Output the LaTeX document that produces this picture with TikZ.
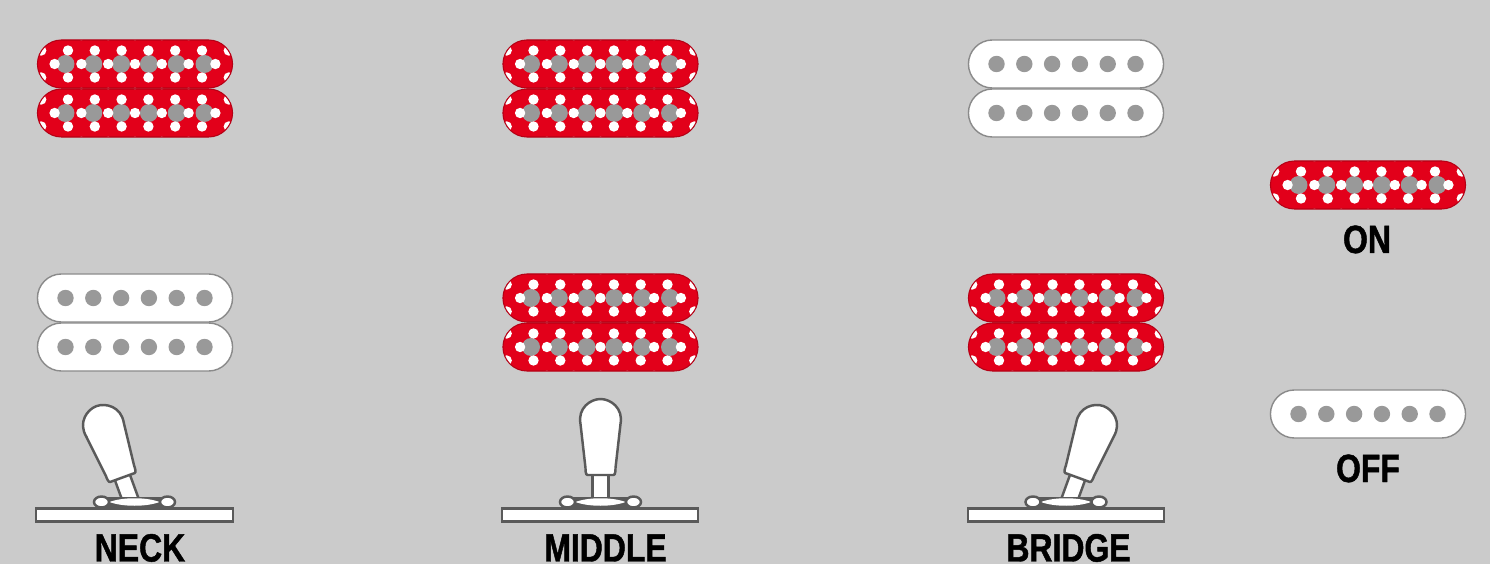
\documentclass[tikz,border=0pt]{standalone}
\usepackage{fontspec}
\setmainfont[FakeStretch=.81, BoldFeatures={FakeBold=1.2}]{Liberation Sans}
\definecolor{panelgray}{HTML}{CBCBCB}
\definecolor{pickupred}{HTML}{E2001A}
\definecolor{polegray}{HTML}{999999}
\definecolor{rimgray}{HTML}{8A8A8A}
\definecolor{partgray}{HTML}{5A5A5A}
\usetikzlibrary{calc}
\tikzset{
  poles/.style={path picture={
    \foreach \k in {-2.5,-1.5,-.5,.5,1.5,2.5}
      \fill[polegray] ($(path picture bounding box.center)+(\k*27.8,0)$) circle (8.2);
  }},
  pickupoff/.style={draw=rimgray, line width=.4pt, fill=white, rounded corners=.24cm, minimum width=1.95cm, minimum height=.48cm, inner sep=0pt, poles},
  pickupon/.style={draw=pickupred!80!black, line width=.3pt, fill=pickupred, rounded corners=.24cm, minimum width=1.95cm, minimum height=.48cm, inner sep=0pt, path picture={
    \foreach \k in {-2.5,-1.5,-.5,.5,1.5,2.5}
      \fill[polegray] ($(path picture bounding box.center)+(\k*27.8,0)$) circle (9);
    \foreach \k in {-3,...,3} {
      \fill[white] ($(path picture bounding box.center)+(\k*26.8,0)$) circle (5.2);
      \fill[white] ($(path picture bounding box.center)+(\k*26.8,25.5)$) circle (2);
      \fill[white] ($(path picture bounding box.center)+(\k*26.8,-25.5)$) circle (2);
    }
    \foreach \k in {-3.5,-2.5,-1.5,-.5,.5,1.5,2.5,3.5} {
      \fill[white] ($(path picture bounding box.center)+(\k*26.8,13.5)$) circle (5.2);
      \fill[white] ($(path picture bounding box.center)+(\k*26.8,-13.5)$) circle (5.2);
    }
  }},
  plate/.style={draw=partgray, line width=.6pt, fill=white, minimum width=1.96cm, minimum height=.13cm, inner sep=0pt},
  caption/.style={anchor=base, font=\fontsize{11.2}{13}\selectfont\bfseries, inner sep=0pt, text=black},
  bolt/.pic={
    \fill[partgray] (-33,-5) -- (33,-5) -- (33,5) -- (-33,5) -- cycle;
    \fill[white] (-25,0) .. controls (-12,-5) and (12,-5) .. (25,0) .. controls (12,5) and (-12,5) .. (-25,0) -- cycle;
    \draw[partgray, line width=.7pt, fill=white] (-33,0) circle [x radius=7.5, y radius=5.5];
    \draw[partgray, line width=.7pt, fill=white] (33,0) circle [x radius=7.5, y radius=5.5];
  },
  lever/.pic={
    \draw[partgray, line width=.7pt, fill=white] (-8,0) -- (-8,-26) -- (8,-26) -- (8,0);
    \draw[partgray, line width=.7pt, fill=white] (-13,-25) .. controls (-15,-25) and (-15,-30) .. (-15,-32) -- (-20,-76) .. controls (-23,-92) and (-10,-101) .. (0,-101) .. controls (10,-101) and (23,-92) .. (20,-76) -- (15,-32) .. controls (15,-30) and (15,-25) .. (13,-25) -- cycle;
  }
}
\begin{document}
\begin{tikzpicture}[x=.01cm, y=-.01cm]
\fill[panelgray] (0,0) rectangle (1490,564);
\useasboundingbox (0,0) rectangle (1490,564);
\node[pickupon] (neckone) at (135,64) {};
\node[pickupon] (necktwo) at (135,113) {};
\node[pickupon] (middleone) at (600.5,64) {};
\node[pickupon] (middletwo) at (600.5,113) {};
\node[pickupoff] (bridgeone) at (1066,64) {};
\node[pickupoff] (bridgetwo) at (1066,113) {};
\node[pickupoff] (neckthree) at (135,298) {};
\node[pickupoff] (neckfour) at (135,347) {};
\node[pickupon] (middlethree) at (600.5,298) {};
\node[pickupon] (middlefour) at (600.5,347) {};
\node[pickupon] (bridgethree) at (1066,298) {};
\node[pickupon] (bridgefour) at (1066,347) {};
\node[pickupon] (legendon) at (1368,185) {};
\node[pickupoff] (legendoff) at (1368,414) {};
\pic[rotate=20] at (131,501) {lever};
\pic[rotate=0] at (600.5,500) {lever};
\pic[rotate=-20] at (1069,501) {lever};
\pic at (134.5,502) {bolt};
\pic at (600.5,502) {bolt};
\pic at (1066,502) {bolt};
\node[plate] (neckplate) at (134.5,515) {};
\node[plate] (middleplate) at (600,515) {};
\node[plate] (bridgeplate) at (1066,515) {};
\node[caption] (necklabel) at (140,561.5) {NECK};
\node[caption] (middlelabel) at (605.5,561.5) {MIDDLE};
\node[caption] (bridgelabel) at (1068.5,561.5) {BRIDGE};
\node[caption] (onlabel) at (1367,253) {ON};
\node[caption] (offlabel) at (1368,482) {OFF};
\end{tikzpicture}
\end{document}
